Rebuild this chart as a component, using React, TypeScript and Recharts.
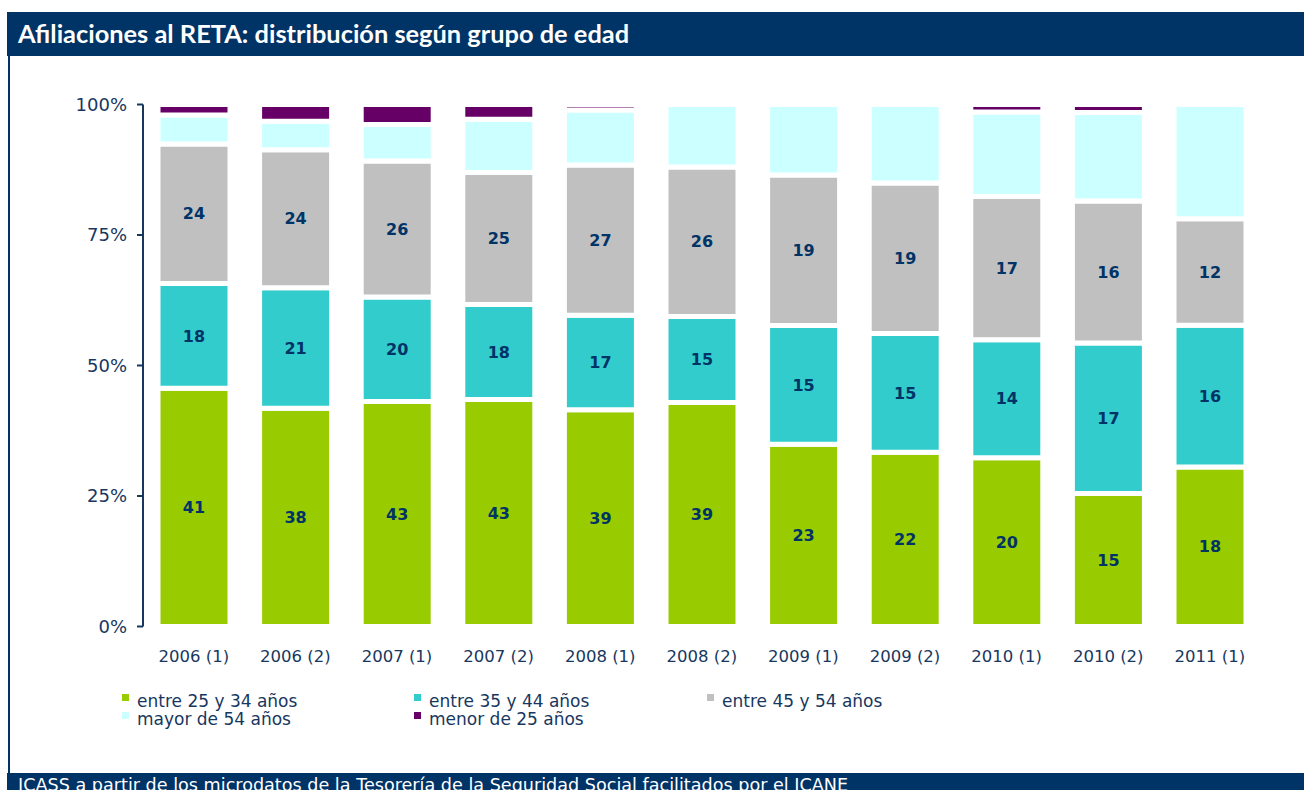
import { BarChart, Bar, XAxis, YAxis, LabelList } from 'recharts';

const categories = ['2006 (1)', '2006 (2)', '2007 (1)', '2007 (2)', '2008 (1)', '2008 (2)', '2009 (1)', '2009 (2)', '2010 (1)', '2010 (2)', '2011 (1)'];
const entre25y34 = [41, 38, 43, 43, 39, 39, 23, 22, 20, 15, 18];
const entre35y44 = [18, 21, 20, 18, 17, 15, 15, 15, 14, 17, 16];
const entre45y54 = [24, 24, 26, 25, 27, 26, 19, 19, 17, 16, 12];
const mayor54 = [5.0, 5.0, 7.0, 10.1, 9.9, 10.9, 8.9, 9.9, 10.0, 10.0, 12.9];
const menor25 = [1.8, 2.9, 3.8, 2.8, 1.0, 0, 0, 0, 0.9, 0.9, 0];
const yTicks = [0, 0.25, 0.5, 0.75, 1];

const series = [
  { key: 'a', name: 'entre 25 y 34 años', color: '#99CC00', values: entre25y34, label: true },
  { key: 'b', name: 'entre 35 y 44 años', color: '#33CCCC', values: entre35y44, label: true },
  { key: 'c', name: 'entre 45 y 54 años', color: '#C0C0C0', values: entre45y54, label: true },
  { key: 'd', name: 'mayor de 54 años', color: '#CCFFFF', values: mayor54, label: false },
  { key: 'e', name: 'menor de 25 años', color: '#660066', values: menor25, label: false },
];

const data = categories.map((cat, i) => {
  const row: Record<string, string | number> = { cat };
  series.forEach(s => { row[s.key] = s.values[i]; });
  return row;
});

const NAVY = '#003366';
const TEXT = '#17375E';
const FONT = '"DejaVu Sans", sans-serif';

export default function App() {
  return (
    <div style={{ position: 'relative', width: 1304, height: 790, overflow: 'hidden', background: '#fff' }}>
      <style>{'body{margin:0}'}</style>

      <div style={{ position: 'absolute', left: 7, top: 12, width: 1297, height: 44, background: NAVY }}>
        <div style={{
          position: 'absolute', left: 11, top: -1, height: 44, lineHeight: '44px',
          color: '#fff', fontFamily: 'Lato, sans-serif', fontWeight: 700, fontSize: 25.4, whiteSpace: 'nowrap',
        }}>
          Afiliaciones al RETA: distribución según grupo de edad
        </div>
      </div>
      <div style={{ position: 'absolute', left: 7.5, top: 56, width: 2.5, height: 717, background: NAVY }} />

      <div style={{ position: 'absolute', left: 0, top: 0 }}>
        <BarChart
          width={1304}
          height={700}
          data={data}
          stackOffset="expand"
          margin={{ top: 104.5, right: 43.4, bottom: 33.5, left: 0 }}
        >
          <XAxis
            dataKey="cat"
            axisLine={false}
            tickLine={false}
            tickSize={0}
            tickMargin={24}
            interval={0}
            height={40}
            tick={{ fill: TEXT, fontSize: 16.5, fontFamily: FONT }}
          />
          <YAxis
            type="number"
            domain={[0, 1]}
            ticks={yTicks}
            width={143}
            axisLine={{ stroke: TEXT, strokeWidth: 2 }}
            tickLine={{ stroke: TEXT, strokeWidth: 2 }}
            tickSize={6}
            tickMargin={10}
            tickFormatter={(v: number) => `${Math.round(v * 100)}%`}
            tick={{ fill: TEXT, fontSize: 18, fontFamily: FONT }}
          />
          {series.map(s => (
            <Bar
              key={s.key}
              dataKey={s.key}
              name={s.name}
              stackId="edad"
              fill={s.color}
              stroke="#fff"
              strokeWidth={5}
              barSize={72}
              isAnimationActive={false}
            >
              {s.label && (
                <LabelList
                  dataKey={s.key}
                  position="center"
                  fill={NAVY}
                  fontSize={16}
                  fontWeight="bold"
                  fontFamily={FONT}
                />
              )}
            </Bar>
          ))}
        </BarChart>
      </div>

      <div style={{
        position: 'absolute', left: 122, top: 692, display: 'grid',
        gridTemplateColumns: '292px 293px 292px', rowGap: 0,
        fontFamily: FONT, fontSize: 17, color: TEXT, lineHeight: '18px',
      }}>
        {series.map(s => (
          <div key={s.key} style={{ position: 'relative', height: 18, paddingLeft: 15, whiteSpace: 'nowrap' }}>
            <span style={{ position: 'absolute', left: 0, top: 2, width: 7, height: 7, background: s.color }} />
            {s.name}
          </div>
        ))}
      </div>

      <div style={{ position: 'absolute', left: 7, top: 772.7, width: 1297, height: 30, background: NAVY }}>
        <div style={{
          position: 'absolute', left: 11, top: 4, lineHeight: '17px',
          color: '#fff', fontFamily: FONT, fontSize: 17.6, whiteSpace: 'nowrap',
        }}>
          ICASS a partir de los microdatos de la Tesorería de la Seguridad Social facilitados por el ICANE
        </div>
      </div>
    </div>
  );
}
